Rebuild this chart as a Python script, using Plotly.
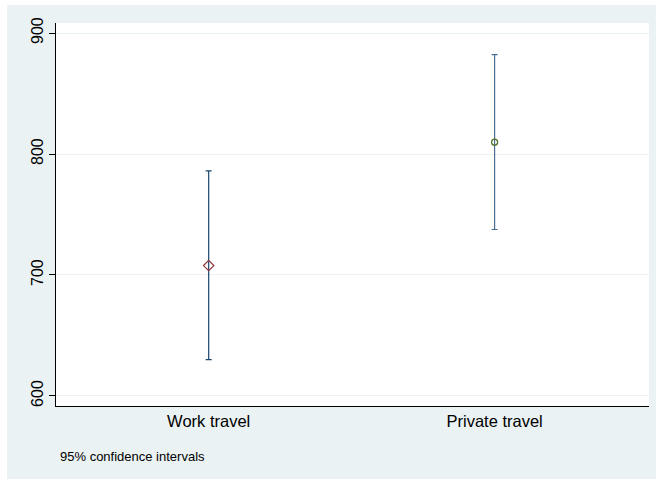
import plotly.graph_objects as go

# Group means with 95% confidence limits
categories = ["Work travel", "Private travel"]
means = [707.8, 809.8]
lower = [630.0, 737.6]
upper = [786.1, 882.1]
y_ticks = [600, 700, 800, 900]

W, H = 656, 479
ML, MR, MT, MB = 56, 7, 23, 73
pw, ph = W - ML - MR, H - MT - MB

BG = "#EAF2F3"
bar_colors = ["#1A476F", "#4A6F93"]
marker_styles = [
    dict(symbol="diamond-open", color="#90353B", size=8, line=dict(width=1.2, color="#90353B")),
    dict(symbol="circle-open", color="#55752F", size=6, line=dict(width=1.3, color="#55752F")),
]

fig = go.Figure()
for i, cat in enumerate(categories):
    fig.add_trace(go.Scatter(
        x=[cat], y=[means[i]],
        mode="markers",
        marker=marker_styles[i],
        error_y=dict(
            type="data", symmetric=False,
            array=[upper[i] - means[i]],
            arrayminus=[means[i] - lower[i]],
            color=bar_colors[i], thickness=1.2, width=3,
        ),
        showlegend=False,
        hoverinfo="skip",
    ))

# white strips along the top and left edges of the graph region
def px_x(x):
    return (x - ML) / pw

def px_y(y):
    return (H - MB - y) / ph

shapes = [
    dict(type="rect", xref="paper", yref="paper", layer="below",
         x0=px_x(0), x1=px_x(7), y0=px_y(H), y1=px_y(0),
         fillcolor="white", line=dict(width=0)),
    dict(type="rect", xref="paper", yref="paper", layer="below",
         x0=px_x(0), x1=px_x(W), y0=px_y(5), y1=px_y(0),
         fillcolor="white", line=dict(width=0)),
]

fig.update_layout(
    width=W, height=H,
    margin=dict(l=ML, r=MR, t=MT, b=MB, pad=0),
    paper_bgcolor=BG,
    plot_bgcolor="white",
    font=dict(family="Liberation Sans, Arial, sans-serif", size=16, color="black"),
    shapes=shapes,
    xaxis=dict(
        type="category",
        range=[-0.534, 1.54],
        showgrid=False, zeroline=False,
        showline=True, linecolor="black", linewidth=1.2,
        ticks="", tickfont=dict(size=16.5),
    ),
    yaxis=dict(
        range=[591.7, 908.3],
        tickvals=y_ticks,
        ticktext=[str(v) for v in y_ticks],
        tickangle=-90,
        showgrid=True, gridcolor=BG, gridwidth=1,
        zeroline=False,
        showline=True, linecolor="black", linewidth=1.2,
        ticks="outside", ticklen=6, tickcolor="black", tickwidth=1,
        tickfont=dict(size=16),
    ),
    annotations=[dict(
        text="95% confidence intervals",
        xref="paper", yref="paper",
        x=px_x(58), y=px_y(456),
        xanchor="left", yanchor="middle",
        showarrow=False,
        font=dict(size=13, color="black"),
    )],
)

fig.write_html("out.html")
